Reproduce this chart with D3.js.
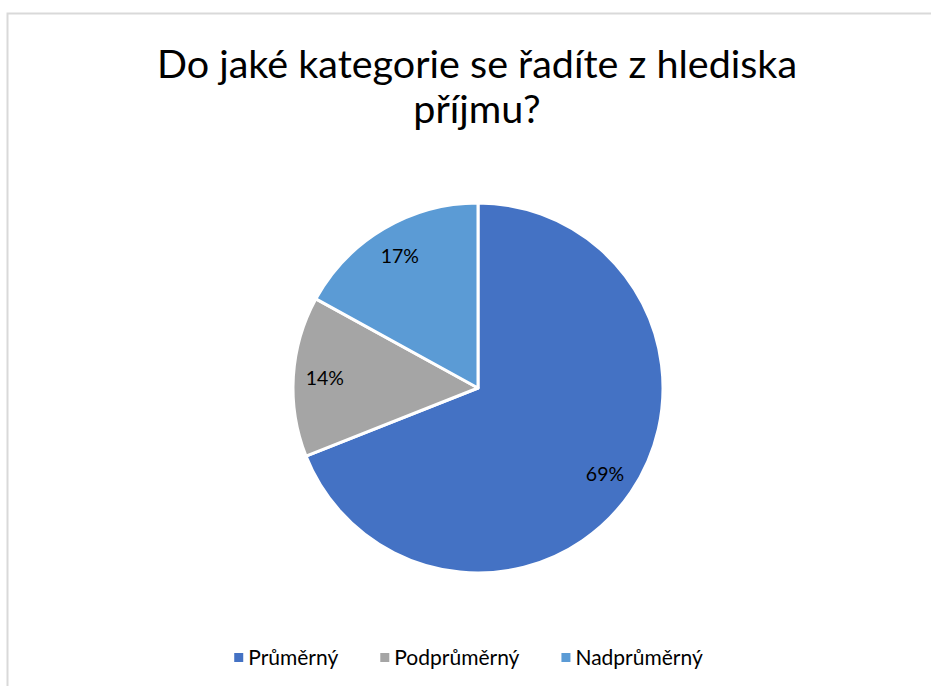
<!DOCTYPE html>
<html>
<head>
<meta charset="utf-8">
<script src="https://cdn.jsdelivr.net/npm/d3@7"></script>
<style>
  body { margin: 0; background: #fff; }
  svg { display: block; font-family: Lato, "Open Sans", sans-serif; }
</style>
</head>
<body>
<svg id="chart" width="931" height="686"></svg>
<script>
// Data
const categories = ["Průměrný", "Podprůměrný", "Nadprůměrný"];
const values = [69, 14, 17];
const colors = ["#4472C4", "#A5A5A5", "#5B9BD5"];
const titleLines = ["Do jaké kategorie se řadíte z hlediska", "příjmu?"];

const svg = d3.select("#chart");
const width = 931, height = 686;

// Chart border (only left/top visible in the crop)
svg.append("rect")
  .attr("x", 7.5).attr("y", 13.5)
  .attr("width", 940).attr("height", 700)
  .attr("fill", "none")
  .attr("stroke", "#d9d9d9")
  .attr("stroke-width", 2);

// Title
svg.append("text")
  .attr("text-anchor", "middle")
  .attr("font-size", 39.5)
  .attr("fill", "#000")
  .selectAll("tspan")
  .data(titleLines)
  .join("tspan")
  .attr("x", 477)
  .attr("y", (d, i) => 78 + i * 45)
  .text(d => d);

// Pie
const cx = 478, cy = 388, radius = 185;
const pie = d3.pie().sort(null).value(d => d.value);
const data = categories.map((c, i) => ({ name: c, value: values[i], color: colors[i] }));
const arcs = pie(data);
const total = d3.sum(values);

const arc = d3.arc().innerRadius(0).outerRadius(radius);
const labelArc = d3.arc().innerRadius(radius * 0.83).outerRadius(radius * 0.83);

const g = svg.append("g").attr("transform", `translate(${cx},${cy})`);

g.selectAll("path")
  .data(arcs)
  .join("path")
  .attr("d", arc)
  .attr("fill", d => d.data.color)
  .attr("stroke", "#fff")
  .attr("stroke-width", 3)
  .attr("stroke-linejoin", "round");

g.selectAll("text.lbl")
  .data(arcs)
  .join("text")
  .attr("class", "lbl")
  .attr("transform", d => `translate(${labelArc.centroid(d)})`)
  .attr("text-anchor", "middle")
  .attr("dy", "0.35em")
  .attr("font-size", 19.5)
  .attr("fill", "#000")
  .text(d => Math.round(d.data.value / total * 100) + "%");

// Legend
const legend = svg.append("g");
const items = legend.selectAll("g")
  .data(data)
  .join("g");

items.append("rect")
  .attr("width", 9).attr("height", 9)
  .attr("y", -12)
  .attr("fill", d => d.color);

items.append("text")
  .attr("x", 14)
  .attr("font-size", 21)
  .attr("fill", "#000")
  .text(d => d.name);

let xPos = 0;
const offsets = [];
items.each(function() {
  offsets.push(xPos);
  const w = 14 + d3.select(this).select("text").node().getComputedTextLength();
  xPos += w + 42;
});
const legendWidth = xPos - 42;
items.attr("transform", (d, i) => `translate(${offsets[i]},0)`);
legend.attr("transform", `translate(${(width - legendWidth) / 2 + 3},665)`);
</script>
</body>
</html>
